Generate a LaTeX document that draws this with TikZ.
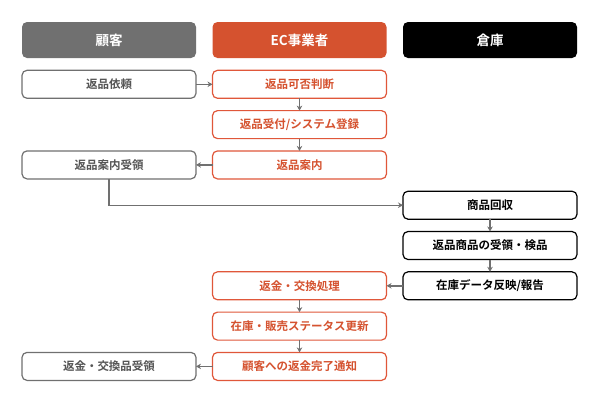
\documentclass[tikz,border=0pt]{standalone}
\usepackage{fontspec}
\setmainfont{Noto Sans CJK JP}[BoldFont={* Bold}]
\usetikzlibrary{arrows.meta, positioning, calc}
\definecolor{custgray}{HTML}{707070}
\definecolor{custtext}{HTML}{555555}
\definecolor{ecred}{HTML}{D5522F}
\definecolor{ecline}{HTML}{E0573A}
\definecolor{arrowgray}{HTML}{707070}
\tikzset{
  head/.style={rectangle, rounded corners=5pt, outer sep=0pt, minimum width=174pt, minimum height=36pt, text=white, font=\fontsize{13.5}{16}\selectfont\bfseries},
  custhead/.style={head, fill=custgray},
  echead/.style={head, fill=ecred},
  whhead/.style={head, fill=black},
  box/.style={draw, rectangle, rounded corners=5pt, outer sep=0pt, line width=1.2pt, fill=white, minimum width=174pt, minimum height=28pt, font=\fontsize{11.5}{14}\selectfont\bfseries},
  custbox/.style={box, draw=custgray, text=custtext},
  ecbox/.style={box, draw=ecline, text=ecred},
  whbox/.style={box, draw=black, text=black},
  flow/.style={-{Stealth[length=5pt, width=5.5pt]}, line width=1.4pt, arrowgray},
}

\begin{document}
\begin{tikzpicture}[x=1pt, y=1pt, node distance=12.3pt and 16.5pt]
  \useasboundingbox (0,0) rectangle (600,-400);

  % lane headers
  \node[custhead] (cust) at (109,-40) {顧客};
  \node[echead, right=of cust] (ec) {EC事業者};
  \node[whhead, right=of ec] (wh) {倉庫};

  % EC side, first part
  \node[ecbox, below=of ec] (judge) {返品可否判断};
  \node[ecbox, below=of judge] (accept) {返品受付/システム登録};
  \node[ecbox, below=of accept] (guide) {返品案内};
  \node[custbox, left=of judge] (request) {返品依頼};
  \node[custbox, left=of guide] (receipt) {返品案内受領};

  % warehouse
  \node[whbox, anchor=north] (collect) at ([yshift=-12.3pt]guide.south -| wh) {商品回収};
  \node[whbox, below=of collect] (inspect) {返品商品の受領・検品};
  \node[whbox, below=of inspect] (report) {在庫データ反映/報告};

  % EC side, second part
  \node[ecbox, left=of report] (refund) {返金・交換処理};
  \node[ecbox, below=of refund] (update) {在庫・販売ステータス更新};
  \node[ecbox, below=of update] (notify) {顧客への返金完了通知};
  \node[custbox, left=of notify] (done) {返金・交換品受領};

  \draw[flow] (request) -- (judge);
  \draw[flow] (judge) -- (accept);
  \draw[flow] (accept) -- (guide);
  \draw[flow] (guide) -- (receipt);
  \draw[flow] (receipt.south) |- (collect.west);
  \draw[flow] (collect) -- (inspect);
  \draw[flow] (inspect) -- (report);
  \draw[flow] (report) -- (refund);
  \draw[flow] (refund) -- (update);
  \draw[flow] (update) -- (notify);
  \draw[flow] (notify) -- (done);
\end{tikzpicture}
\end{document}
